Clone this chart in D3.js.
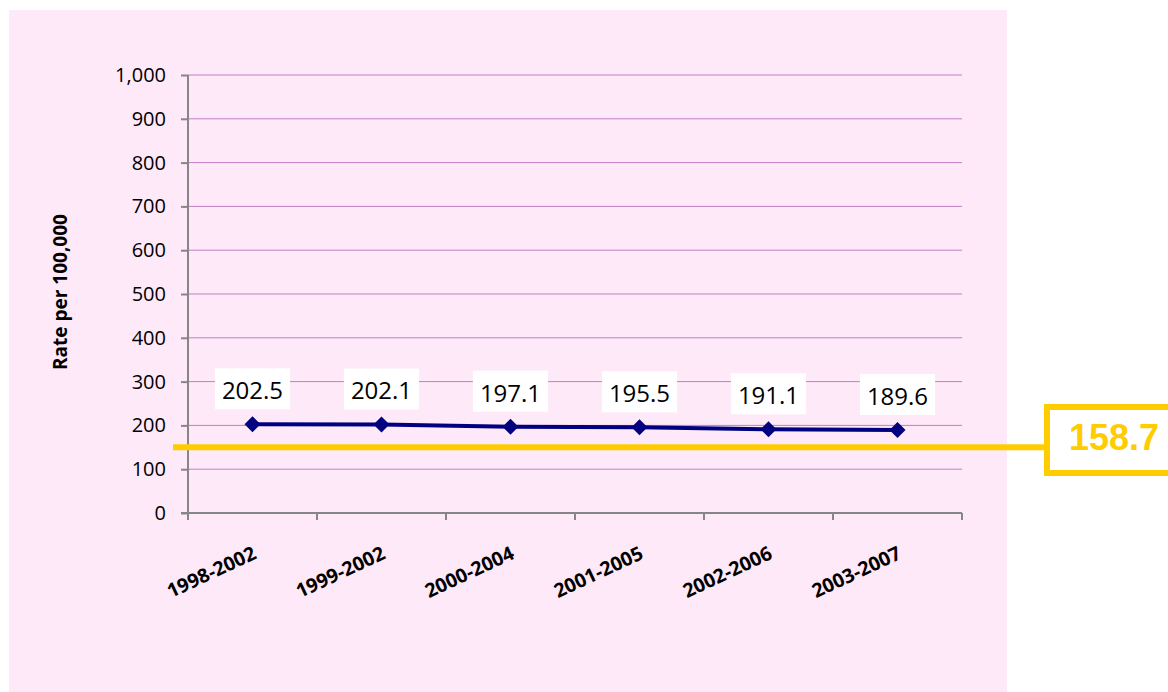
<!DOCTYPE html>
<html>
<head>
<meta charset="utf-8">
<script src="https://cdn.jsdelivr.net/npm/d3@7"></script>
<style>
  html, body { margin: 0; padding: 0; background: #ffffff; }
  svg { display: block; }
</style>
</head>
<body>
<svg id="chart" width="1168" height="692"></svg>
<script>
// ---- data ----
const categories = ["1998-2002", "1999-2002", "2000-2004", "2001-2005", "2002-2006", "2003-2007"];
const rates = [202.5, 202.1, 197.1, 195.5, 191.1, 189.6];
const yTicks = [0, 100, 200, 300, 400, 500, 600, 700, 800, 900, 1000];
const benchmarkLabel = "158.7";
const benchmarkLineValue = 150;
const yTitle = "Rate per 100,000";

// ---- layout ----
const svg = d3.select("#chart");
const W = 1168, H = 692;
const plot = { left: 188, right: 962, top: 75, bottom: 513 };
const FONT = "'Open Sans', 'DejaVu Sans', sans-serif";
const YELLOW = "#FFCC00";

// background panel
svg.append("rect").attr("x", 9).attr("y", 10).attr("width", 998).attr("height", H - 10)
  .attr("fill", "#FEE9F8");

const x = d3.scaleBand().domain(categories).range([plot.left, plot.right]).padding(0);
const y = d3.scaleLinear().domain([0, 1000]).range([plot.bottom, plot.top]);

// gridlines
svg.append("g").selectAll("line").data(yTicks.filter(d => d > 0)).join("line")
  .attr("x1", plot.left).attr("x2", plot.right)
  .attr("y1", d => y(d)).attr("y2", d => y(d))
  .attr("stroke", "#C27DC8").attr("stroke-width", 1);

// y axis
const yAxis = d3.axisLeft(y).tickValues(yTicks).tickFormat(d3.format(",")).tickSize(7).tickPadding(15);
const gy = svg.append("g").attr("transform", `translate(${plot.left},0)`).call(yAxis);
gy.select(".domain").attr("stroke", "#868686").attr("stroke-width", 2).attr("d", `M0,${plot.top}V${plot.bottom}`);
gy.selectAll(".tick line").attr("stroke", "#868686").attr("stroke-width", 2);
gy.selectAll(".tick text").attr("font-family", FONT).attr("font-size", 20).attr("fill", "#000");

// x axis
const boundaries = categories.map(c => x(c)).concat([x(categories[categories.length - 1]) + x.bandwidth()]);
const gx = svg.append("g");
gx.append("line").attr("x1", plot.left - 7).attr("x2", plot.right)
  .attr("y1", plot.bottom).attr("y2", plot.bottom)
  .attr("stroke", "#868686").attr("stroke-width", 2);
gx.selectAll("line.tk").data(boundaries).join("line").attr("class", "tk")
  .attr("x1", d => d).attr("x2", d => d)
  .attr("y1", plot.bottom).attr("y2", plot.bottom + 7)
  .attr("stroke", "#868686").attr("stroke-width", 2);
gx.selectAll("text").data(categories).join("text")
  .attr("transform", d => `translate(${x(d) + x.bandwidth() / 2 + 5},${plot.bottom + 45}) rotate(-25)`)
  .attr("text-anchor", "end")
  .attr("font-family", FONT).attr("font-size", 19.5).attr("font-weight", "bold").attr("fill", "#000")
  .text(d => d);

// y title
svg.append("text")
  .attr("transform", `translate(67,292) rotate(-90)`)
  .attr("text-anchor", "middle")
  .attr("font-family", FONT).attr("font-size", 19).attr("font-weight", "bold").attr("fill", "#000")
  .text(yTitle);

// benchmark line + box
const by = y(benchmarkLineValue);
const boxX = 1047, boxY = 407, boxH = 66;
svg.append("line").attr("x1", 173).attr("x2", boxX).attr("y1", by).attr("y2", by)
  .attr("stroke", YELLOW).attr("stroke-width", 6);
svg.append("rect").attr("x", boxX).attr("y", boxY).attr("width", 160).attr("height", boxH)
  .attr("fill", "#ffffff").attr("stroke", YELLOW).attr("stroke-width", 6);
svg.append("text").attr("x", 1114).attr("y", 450).attr("text-anchor", "middle")
  .attr("font-family", "'Liberation Sans', Arial, sans-serif").attr("font-size", 36).attr("font-weight", "bold")
  .attr("fill", YELLOW).text(benchmarkLabel);

// series line
const pts = categories.map((c, i) => ({ c, v: rates[i] }));
const line = d3.line().x(d => x(d.c) + x.bandwidth() / 2).y(d => y(d.v));
svg.append("path").datum(pts).attr("d", line)
  .attr("fill", "none").attr("stroke", "#000080").attr("stroke-width", 4).attr("stroke-linejoin", "round");
svg.append("g").selectAll("path").data(pts).join("path")
  .attr("d", d3.symbol().type(d3.symbolSquare).size(128))
  .attr("transform", d => `translate(${x(d.c) + x.bandwidth() / 2},${y(d.v)}) rotate(45)`)
  .attr("fill", "#000080");

// data labels
const lab = svg.append("g").selectAll("g").data(pts).join("g");
lab.each(function (d) {
  const g = d3.select(this);
  const cx = x(d.c) + x.bandwidth() / 2;
  const bottom = y(d.v) - 15;
  const rect = g.append("rect").attr("fill", "#ffffff");
  const t = g.append("text").attr("x", cx).attr("y", bottom - 10).attr("text-anchor", "middle")
    .attr("font-family", FONT).attr("font-size", 24).attr("fill", "#000").text(d.v.toFixed(1));
  const bb = t.node().getBBox();
  rect.attr("x", cx - bb.width / 2 - 7).attr("y", bottom - 41).attr("width", bb.width + 14).attr("height", 41);
});
</script>
</body>
</html>
